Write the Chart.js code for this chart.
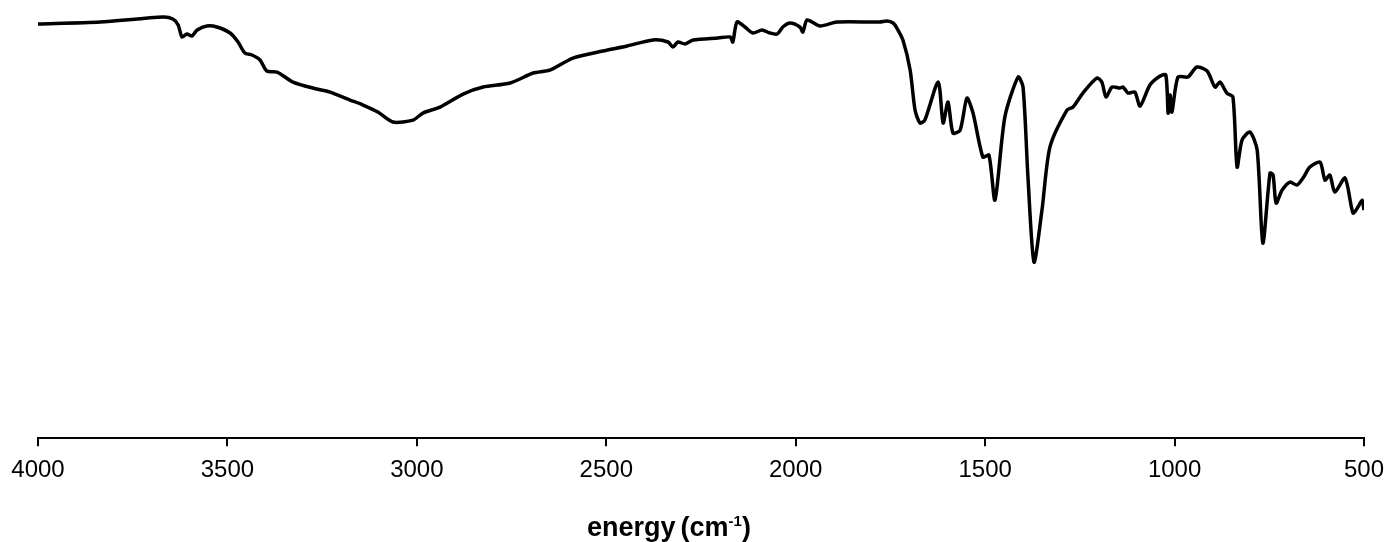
<!DOCTYPE html>
<html>
<head>
<meta charset="utf-8">
<script src="https://cdn.jsdelivr.net/npm/chart.js@4"></script>
<style>
  body { margin: 0; background: #fff; }
</style>
</head>
<body>
<canvas id="irChart" width="1387" height="542"></canvas>
<script>
// wavenumber (cm-1)
const wavenumbers = [4000, 3836, 3670, 3644, 3630, 3620, 3607, 3594, 3580, 3554, 3528, 3493, 3472, 3454, 3435, 3414, 3396, 3369, 3327, 3264, 3229, 3176, 3142, 3103, 3063, 3010, 2984, 2939, 2878, 2825, 2754, 2693, 2649, 2588, 2509, 2445, 2377, 2337, 2324, 2311, 2292, 2271, 2205, 2173, 2166, 2155, 2134, 2113, 2089, 2068, 2049, 2034, 2015, 1989, 1981, 1970, 1936, 1891, 1778, 1759, 1743, 1733, 1717, 1698, 1685, 1672, 1659, 1624, 1611, 1598, 1585, 1566, 1548, 1532, 1506, 1490, 1474, 1448, 1413, 1400, 1387, 1371, 1350, 1329, 1284, 1268, 1242, 1205, 1192, 1181, 1165, 1144, 1136, 1123, 1105, 1091, 1065, 1038, 1023, 1017, 1012, 1007, 991, 965, 941, 914, 893, 880, 862, 846, 835, 822, 801, 782, 767, 748, 740, 732, 716, 695, 677, 661, 643, 616, 603, 590, 577, 550, 529, 516, 505, 500]
// transmittance (arbitrary units)
const transmittance = [413, 415, 420, 418, 412, 400, 403, 401, 407, 411, 410, 404, 395, 384, 382, 377, 366, 365, 355, 348, 345, 337, 332, 325, 315, 317, 324, 330, 343, 350, 354, 364, 367, 379, 386, 391, 397, 395, 390, 395, 393, 397, 399, 400, 395, 415, 410, 404, 407, 404, 403, 410, 414, 410, 405, 417, 411, 415, 415, 416, 414, 409, 397, 367, 327, 314, 317, 355, 314, 335, 304, 307, 339, 324, 280, 282, 237, 320, 360, 350, 260, 175, 227, 290, 327, 330, 344, 359, 355, 340, 350, 349, 350, 344, 345, 331, 352, 361, 362, 324, 342, 325, 360, 360, 370, 366, 350, 355, 344, 340, 270, 297, 305, 287, 194, 264, 262, 234, 247, 255, 252, 259, 270, 275, 257, 262, 245, 259, 224, 230, 237, 227]
const xTicks = [4000, 3500, 3000, 2500, 2000, 1500, 1000, 500]

const points = wavenumbers.map((w, i) => ({ x: w, y: transmittance[i] }))

// axis title with a real superscript, drawn under the tick labels
const axisTitle = {
    id: "axisTitle",
    afterDraw(chart) {
        const c = chart.ctx
        const area = chart.chartArea
        const main = "bold 27px 'Liberation Sans'"
        const small = "bold 15px 'Liberation Sans'"
        const parts = [["energy", main, 0], [" ", "bold 18px 'Liberation Sans'", 0], ["(cm", main, 0], ["-1", small, -10], [")", main, 0]]
        c.save()
        c.fillStyle = "#000"
        c.textBaseline = "alphabetic"
        let total = 0
        parts.forEach(p => { c.font = p[1]; total += c.measureText(p[0]).width })
        let x = (area.left + area.right) / 2 - 32 - total / 2
        const y = area.bottom + 98
        parts.forEach(p => {
            c.font = p[1]
            c.fillText(p[0], x, y + p[2])
            x += c.measureText(p[0]).width
        })
        c.restore()
    }
}

const ctx = document.getElementById("irChart").getContext("2d")

new Chart(ctx, {
    type: "line",
    data: {
        datasets: [{
            data: points,
            borderColor: "#000",
            borderWidth: 3.5,
            pointRadius: 0,
            tension: 0.25,
            fill: false
        }]
    },
    options: {
        responsive: false,
        animation: false,
        layout: {
            padding: { left: 38, right: 23, top: 0, bottom: 47 }
        },
        plugins: {
            legend: { display: false },
            tooltip: { enabled: false }
        },
        scales: {
            x: {
                type: "linear",
                reverse: true,
                min: 500,
                max: 4000,
                afterBuildTicks: axis => {
                    axis.ticks = xTicks.map(v => ({ value: v }))
                },
                afterFit: axis => {
                    axis.paddingLeft = 0
                    axis.paddingRight = 0
                },
                grid: {
                    drawOnChartArea: false,
                    drawTicks: true,
                    tickLength: 8,
                    color: "#000",
                    lineWidth: 2
                },
                border: { color: "#000", width: 2 },
                ticks: {
                    color: "#000",
                    padding: 10,
                    maxRotation: 0,
                    callback: v => String(v),
                    font: { family: "Liberation Sans", size: 24 }
                }
            },
            y: {
                display: false,
                min: -1,
                max: 437
            }
        }
    },
    plugins: [axisTitle]
})
</script>
</body>
</html>
